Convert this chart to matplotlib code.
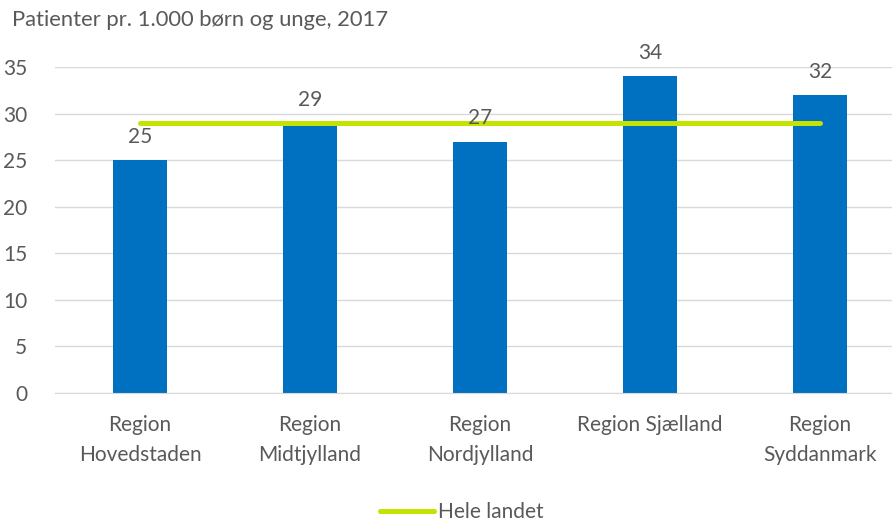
import matplotlib
matplotlib.use("Agg")
import matplotlib.pyplot as plt

plt.rcParams["font.family"] = ["Lato", "DejaVu Sans"]

regions = ["Region\nHovedstaden", "Region\nMidtjylland", "Region\nNordjylland",
           "Region Sjælland", "Region\nSyddanmark"]
patienter = [25, 29, 27, 34, 32]
hele_landet = [29, 29, 29, 29, 29]

GREY = "#595959"
BLUE = "#0070C0"
GREEN = "#C4E300"

fig = plt.figure(figsize=(8.92, 5.21), dpi=100)
ax = fig.add_axes([55 / 892, 1 - 393 / 521, 850 / 892, 326 / 521])

x = range(len(regions))
ax.bar(x, patienter, width=0.32, color=BLUE, zorder=2)
ax.plot(x, hele_landet, color=GREEN, linewidth=3.6, solid_capstyle="round",
        label="Hele landet", zorder=3)

for i, v in enumerate(patienter):
    ax.text(i, v + 1.4, str(v), ha="center", va="bottom", fontsize=15, color=GREY)

ax.set_xlim(-0.5, 4.5)
ax.set_ylim(0, 35)
ax.set_yticks(range(0, 36, 5))
ax.set_xticks(list(x))
ax.set_xticklabels(regions, fontsize=15, color=GREY, linespacing=1.6)
ax.tick_params(axis="y", labelsize=15, labelcolor=GREY, length=0, pad=20)
ax.tick_params(axis="x", length=0, pad=16)
ax.grid(axis="y", color="#D9D9D9", linewidth=1, zorder=0)
for s in ["top", "right", "left"]:
    ax.spines[s].set_visible(False)
ax.spines["bottom"].set_color("#D9D9D9")

fig.text(12 / 892, 1 - 20 / 521, "Patienter pr. 1.000 børn og unge, 2017",
         fontsize=15.8, color=GREY, va="center", ha="left")

leg = fig.legend(loc="center", bbox_to_anchor=(462 / 892, 1 - 512 / 521),
                 frameon=False, fontsize=15, handlelength=2.6, handletextpad=0.2)
for t in leg.get_texts():
    t.set_color(GREY)

fig.savefig("out.png", dpi=100)
